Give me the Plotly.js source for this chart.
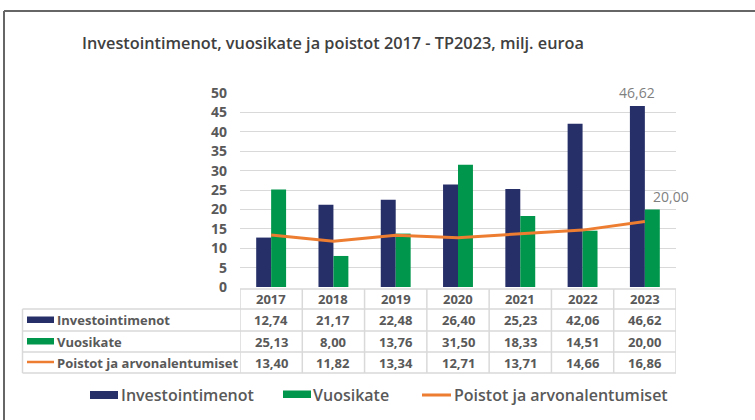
<!DOCTYPE html>
<html>
<head>
<meta charset="utf-8">
<script src="https://cdn.plot.ly/plotly-3.0.1.min.js"></script>
<style>
html,body{margin:0;padding:0;background:#fff;}
#chart{width:755px;height:420px;}
</style>
</head>
<body>
<div id="chart"></div>
<script>
// ---- data ----
const years = ['2017','2018','2019','2020','2021','2022','2023'];
const investointimenot = [12.74, 21.17, 22.48, 26.40, 25.23, 42.06, 46.62];
const vuosikate = [25.13, 8.00, 13.76, 31.50, 18.33, 14.51, 20.00];
const poistot = [13.40, 11.82, 13.34, 12.71, 13.71, 14.66, 16.86];
const seriesNames = ['Investointimenot', 'Vuosikate', 'Poistot ja arvonalentumiset'];
const titleText = 'Investointimenot, vuosikate ja poistot 2017 - TP2023, milj. euroa';

// ---- styles ----
const W = 755, H = 420;
const L = 240, R = 676, T = 93, B = 287;
const cBlue = '#262F68', cGreen = '#00964B', cOrange = '#ED7D31';
const txt = '#595959', gridC = '#D9D9D9';
const FONT = 'Open Sans, sans-serif';
const px2x = p => (p - L) / (R - L);
const py2y = p => (B - p) / (B - T);
const fmt = v => v.toFixed(2).replace('.', ',');

const traces = [
  {type:'bar', x:years, y:investointimenot, name:seriesNames[0],
   marker:{color:cBlue}, hoverinfo:'y'},
  {type:'bar', x:years, y:vuosikate, name:seriesNames[1],
   marker:{color:cGreen}, hoverinfo:'y'},
  {type:'scatter', mode:'lines', x:years, y:poistot, name:seriesNames[2],
   line:{color:cOrange, width:3}, hoverinfo:'y'}
];

const shapes = [];
const annotations = [];

// outer frame
shapes.push({type:'line', xref:'paper', yref:'paper', x0:px2x(4), x1:px2x(760), y0:py2y(11), y1:py2y(11), line:{color:'#666', width:2}});
shapes.push({type:'line', xref:'paper', yref:'paper', x0:px2x(4), x1:px2x(4), y0:py2y(11), y1:py2y(425), line:{color:'#666', width:2}});

// table grid
const rowLines = [289, 309, 331, 352, 373];
rowLines.forEach((py, i) => {
  shapes.push({type:'line', xref:'paper', yref:'paper',
    x0: i === 0 ? 0 : px2x(22.5), x1: 1, y0: py2y(py), y1: py2y(py),
    line:{color:gridC, width:1.5}});
});
for (let k = 0; k <= years.length; k++) {
  shapes.push({type:'line', xref:'x', yref:'paper', x0:k-0.5, x1:k-0.5,
    y0:py2y(289), y1:py2y(373), line:{color:gridC, width:1.5}});
}
shapes.push({type:'line', xref:'paper', yref:'paper', x0:px2x(22.5), x1:px2x(22.5),
  y0:py2y(309), y1:py2y(373), line:{color:gridC, width:1.5}});

const rowCenters = [320, 341.5, 362.5];
const rowData = [investointimenot, vuosikate, poistot];
years.forEach((yr, i) => {
  annotations.push({xref:'x', yref:'paper', x:i, y:py2y(298.5), text:yr, showarrow:false,
    xanchor:'center', yanchor:'middle', font:{family:FONT, size:13, color:txt, weight:'bold'}});
  rowData.forEach((arr, r) => {
    annotations.push({xref:'x', yref:'paper', x:i, y:py2y(rowCenters[r]), text:fmt(arr[i]), showarrow:false,
      xanchor:'center', yanchor:'middle', font:{family:FONT, size:13, color:txt, weight:'bold'}});
  });
});

// table row labels with swatches
shapes.push({type:'rect', xref:'paper', yref:'paper', x0:px2x(27), x1:px2x(54), y0:py2y(316.5), y1:py2y(323), fillcolor:cBlue, line:{width:0}});
shapes.push({type:'rect', xref:'paper', yref:'paper', x0:px2x(27), x1:px2x(54), y0:py2y(338), y1:py2y(344.5), fillcolor:cGreen, line:{width:0}});
shapes.push({type:'line', xref:'paper', yref:'paper', x0:px2x(27), x1:px2x(54), y0:py2y(362), y1:py2y(362), line:{color:cOrange, width:2.5}});
seriesNames.forEach((n, r) => {
  annotations.push({xref:'paper', yref:'paper', x:px2x(55), y:py2y(rowCenters[r]), text:n, showarrow:false,
    xanchor:'left', yanchor:'middle', font:{family:FONT, size:13, color:txt, weight:'bold'}});
});

// bottom legend
shapes.push({type:'rect', xref:'paper', yref:'paper', x0:px2x(90), x1:px2x(118), y0:py2y(391), y1:py2y(399), fillcolor:cBlue, line:{width:0}});
shapes.push({type:'rect', xref:'paper', yref:'paper', x0:px2x(283), x1:px2x(311), y0:py2y(390.5), y1:py2y(398), fillcolor:cGreen, line:{width:0}});
shapes.push({type:'line', xref:'paper', yref:'paper', x0:px2x(422), x1:px2x(451), y0:py2y(395), y1:py2y(395), line:{color:cOrange, width:3}});
const legX = [119, 311, 452];
seriesNames.forEach((n, r) => {
  annotations.push({xref:'paper', yref:'paper', x:px2x(legX[r]), y:py2y(395), text:n, showarrow:false,
    xanchor:'left', yanchor:'middle', font:{family:FONT, size:16, color:txt, weight:600}});
});

// data labels
const last = years.length - 1;
annotations.push({xref:'x', yref:'y', x:last, y:investointimenot[last], text:fmt(investointimenot[last]),
  showarrow:false, xanchor:'center', yanchor:'bottom', xshift:-8, yshift:2,
  font:{family:FONT, size:14, color:'#7F7F7F'}});
annotations.push({xref:'x', yref:'y', x:last, y:vuosikate[last], text:fmt(vuosikate[last]),
  showarrow:false, xanchor:'center', yanchor:'bottom', xshift:26, yshift:1,
  font:{family:FONT, size:14, color:'#7F7F7F'}});

const layout = {
  width: W, height: H,
  margin:{l:L, r:W-R, t:T, b:H-B, pad:0},
  paper_bgcolor:'#fff', plot_bgcolor:'#fff',
  showlegend:false,
  barmode:'group', bargap:0.52, bargroupgap:0,
  title:{text:titleText, xref:'container', yref:'container', x:82/W, xanchor:'left',
    y:1-43/H, yanchor:'middle', font:{family:FONT, size:16.3, color:'#404040', weight:600}},
  xaxis:{type:'category', range:[-0.5, years.length-0.5], showticklabels:false, showgrid:false,
    zeroline:false, showline:false, ticks:'', fixedrange:true},
  yaxis:{range:[0,50], dtick:5, tick0:0, showgrid:true, gridcolor:gridC, gridwidth:1,
    zeroline:false, showline:false, ticks:'', ticklabelstandoff:12,
    tickfont:{family:FONT, size:14, color:txt, weight:'bold'}, fixedrange:true},
  shapes: shapes,
  annotations: annotations
};

Plotly.newPlot('chart', traces, layout, {displayModeBar:false, staticPlot:true});
</script>
</body>
</html>
